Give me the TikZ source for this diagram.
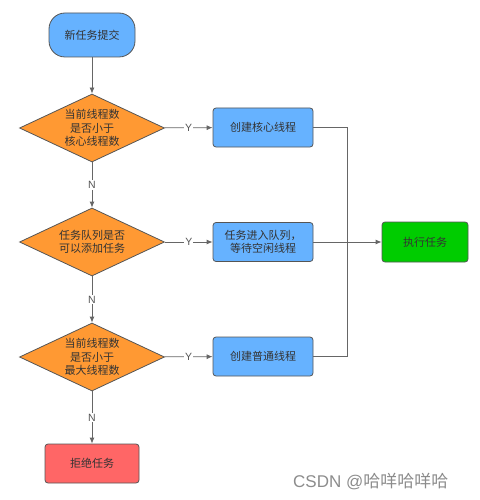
\documentclass[tikz,border=0pt]{standalone}
\usepackage{fontspec}
\setmainfont{Noto Sans CJK SC}
\newfontfamily\wmfont{Liberation Sans}
\newfontfamily\wmcjk{Noto Sans CJK SC}
\usetikzlibrary{shapes.geometric,arrows.meta}
\definecolor{bblue}{HTML}{66B2FF}
\definecolor{dorange}{HTML}{FF9933}
\definecolor{ggreen}{HTML}{00CC00}
\definecolor{rred}{HTML}{FF6666}
\definecolor{edge}{HTML}{555555}
\definecolor{txt}{HTML}{333333}
\tikzset{
  base/.style={draw=edge, line width=0.8pt, text=txt, font=\fontsize{11}{13.5}\selectfont, align=center, inner sep=0pt},
  startbox/.style={base, fill=bblue, rounded corners=16pt, minimum width=86pt, minimum height=44pt},
  decision/.style={base, diamond, fill=dorange, minimum width=145pt, minimum height=68pt, aspect=2.13},
  procbox/.style={base, fill=bblue, rounded corners=3pt, minimum width=100pt, minimum height=39pt},
  execbox/.style={base, fill=ggreen, rounded corners=3pt, minimum width=86pt, minimum height=40pt},
  rejbox/.style={base, fill=rred, rounded corners=3pt, minimum width=94pt, minimum height=39pt},
  conn/.style={draw=edge!90, line width=0.8pt},
  arr/.style={conn, -{Latex[length=6pt,width=5pt]}},
  lbl/.style={fill=white, text=edge, inner sep=1pt, font=\fontsize{10.5}{12}\selectfont\wmfont},
}
\begin{document}
\begin{tikzpicture}[x=1pt,y=-1pt]
\useasboundingbox (0,0) rectangle (479,500);
\node[startbox] (start) at (92,35) {新任务提交};
\node[decision] (d1) at (92,128) {当前线程数\\是否小于\\核心线程数};
\node[decision] (d2) at (92,242) {任务队列是否\\可以添加任务};
\node[decision] (d3) at (92,357) {当前线程数\\是否小于\\最大线程数};
\node[procbox] (p1) at (263,127.5) {创建核心线程};
\node[procbox] (p2) at (263,242) {任务进入队列，\\等待空闲线程};
\node[procbox] (p3) at (263,356.5) {创建普通线程};
\node[execbox] (ex) at (425,242) {执行任务};
\node[rejbox] (rej) at (92,463.5) {拒绝任务};
\coordinate (jt) at (347,127.5);
\coordinate (jb) at (347,356.5);
\draw[arr] (start) -- (d1);
\draw[arr] (d1) -- node[lbl, pos=0.5] {N} (d2);
\draw[arr] (d2) -- node[lbl, pos=0.5] {N} (d3);
\draw[arr] (d3) -- node[lbl, pos=0.5] {N} (rej);
\draw[arr] (d1) -- node[lbl, pos=0.5] {Y} (p1);
\draw[arr] (d2) -- node[lbl, pos=0.5] {Y} (p2);
\draw[arr] (d3) -- node[lbl, pos=0.5] {Y} (p3);
\draw[arr] (p2) -- (ex);
\draw[conn] (p1.east) -- (jt) -- (jb) -- (p3.east);
\node[anchor=west, text=black!45, inner sep=0pt, font=\fontsize{17}{20}\selectfont] (wm) at (293,482) {\wmfont CSDN @\wmcjk 哈咩哈咩哈};
\end{tikzpicture}
\end{document}
